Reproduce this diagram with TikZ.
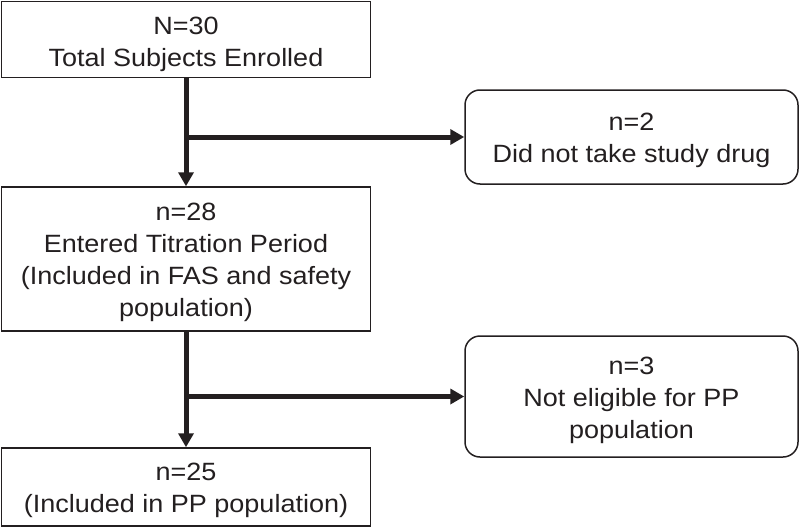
\documentclass[tikz,border=0pt]{standalone}
\usepackage{fontspec}
\setmainfont{Liberation Sans}[FakeStretch=1.08]
\usetikzlibrary{arrows.meta}
\definecolor{ink}{RGB}{35,31,32}
\begin{document}
\begin{tikzpicture}[x=1pt,y=-1pt,
  box/.style={draw=ink,line width=1.5pt,inner sep=0pt,minimum width=369pt},
  rbox/.style={box,rounded corners=15pt,minimum width=333pt},
  txt/.style={inner sep=0pt,align=center,text=ink,font=\fontsize{25}{32}\selectfont},
  flow/.style={draw=ink,line width=5pt,-{Triangle[width=15pt,length=14pt]}}]
\useasboundingbox (0,0) rectangle (800,527);
\node[box,minimum height=76pt] (b1) at (186,39.5) {};
\node[box,minimum height=144pt] (b2) at (186,259) {};
\node[box,minimum height=78pt] (b3) at (186,487) {};
\node[rbox,minimum height=94pt] (r1) at (631.5,137) {};
\node[rbox,minimum height=121pt] (r2) at (631.5,396.5) {};
\node[txt] (t1) at ([yshift=-4.5pt]b1.center) {N=30\\Total Subjects Enrolled};
\node[txt] (t2) at ([yshift=-3pt]b2.center) {n=28\\Entered Titration Period\\(Included in FAS and safety\\population)};
\node[txt] (t3) at ([yshift=-3pt]b3.center) {n=25\\(Included in PP population)};
\node[txt] (t4) at ([yshift=-3pt]r1.center) {n=2\\Did not take study drug};
\node[txt] (t5) at ([yshift=-3.5pt]r2.center) {n=3\\Not eligible for PP\\population};
\draw[flow] (b1.south) -- (b2.north);
\draw[flow] (b1.south |- r1.west) -- (r1.west);
\draw[flow] (b2.south) -- (b3.north);
\draw[flow] (b2.south |- r2.west) -- (r2.west);
\end{tikzpicture}
\end{document}
